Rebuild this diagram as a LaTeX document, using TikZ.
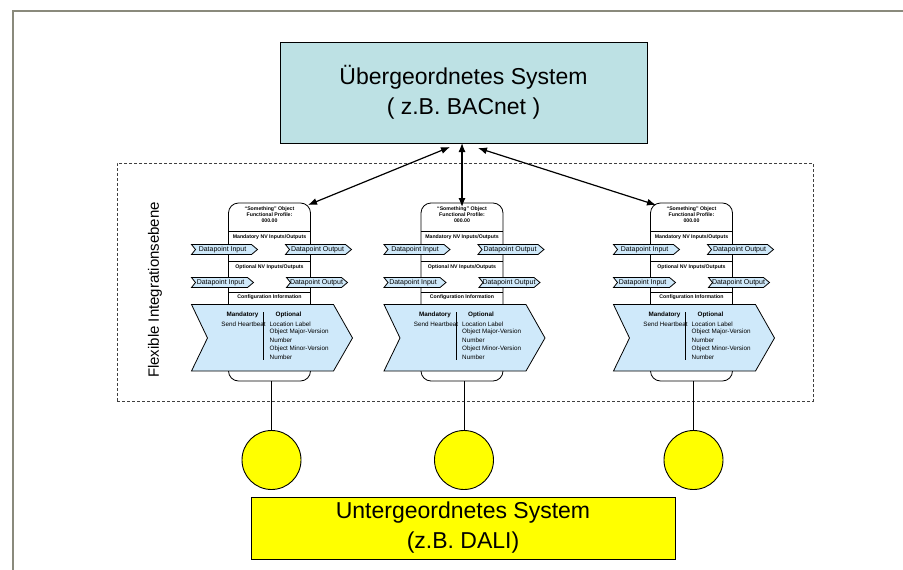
\documentclass[tikz,border=0pt]{standalone}
\usepackage{fontspec}
\setmainfont{Liberation Sans}
\usetikzlibrary{arrows.meta}
\definecolor{topfill}{HTML}{BDE1E4}
\definecolor{dpfill}{HTML}{CFE9FA}
\definecolor{framec}{HTML}{8A8A7C}
\definecolor{dalifill}{HTML}{FFFF00}
\tikzset{
  bigbox/.style={draw, line width=1pt, align=center, inner sep=0pt, font=\fontsize{23}{30}\selectfont},
  modbox/.style={draw, line width=0.8pt, fill=white, rounded corners=10pt, minimum width=82pt, minimum height=178pt, inner sep=0pt},
  hdr/.style={inner sep=0pt, align=center, font=\fontsize{5.2}{5.8}\selectfont\bfseries},
  sep/.style={line width=0.8pt},
  dp/.style={draw, line width=0.8pt, fill=dpfill},
  dptext/.style={inner sep=0pt, font=\fontsize{7}{8}\selectfont},
  cfgtext/.style={inner sep=0pt, font=\fontsize{6.3}{7}\selectfont},
  cfgbold/.style={inner sep=0pt, font=\fontsize{6.3}{7}\selectfont\bfseries},
  link/.style={line width=1.2pt, {Latex[length=9pt,width=7pt]}-{Latex[length=9pt,width=7pt]}},
  wire/.style={line width=0.9pt},
  dot/.style={circle, draw, line width=0.9pt, fill=dalifill, minimum size=59pt, inner sep=0pt}
}
\begin{document}
\begin{tikzpicture}[x=1pt,y=-1pt]
\useasboundingbox (0,0) rectangle (903,570);
% frame
\draw[framec, line width=1.5pt] (903,11) -- (13,11) -- (13,570);
% flexible integration layer
\node[draw, dash pattern=on 3pt off 2pt, line width=0.7pt, draw=black!75, minimum width=696pt, minimum height=238pt, inner sep=0pt] (flex) at (465,282) {};
\node[rotate=90, inner sep=0pt, font=\fontsize{15}{18}\selectfont] (flexlabel) at (155,290) {Flexible Integrationsebene};
% top system
\node[bigbox, fill=topfill, minimum width=367pt, minimum height=101pt] (top) at (463.5,92.5) {Übergeordnetes System\\( z.B. BACnet )};
% bottom system
\node[bigbox, fill=dalifill, minimum width=424pt, minimum height=62pt] (bottom) at (463,528) {Untergeordnetes System\\(z.B. DALI)};
% modules
\foreach \cx/\n in {269.5/1,462/2,691.5/3}{
  \node[modbox] (m\n) at (\cx,292) {};
  \node[hdr] (h\n) at (\cx,214.5) {“Something” Object\\Functional Profile:\\000.00};
  \draw[sep] ({\cx-41},231) -- ({\cx+41},231);
  \node[hdr] (mio\n) at (\cx,237.5) {Mandatory NV Inputs/Outputs};
  % row 1
  \draw[dp] ({\cx-78},244.5) -- ({\cx-18},244.5) -- ({\cx-12},249.5) -- ({\cx-18},254.5) -- ({\cx-78},254.5) -- ({\cx-74},249.5) -- cycle;
  \node[dptext] (dpi\n) at ({\cx-47},249.5) {Datapoint Input};
  \draw[dp] ({\cx+16},244.5) -- ({\cx+76},244.5) -- ({\cx+82},249.5) -- ({\cx+76},254.5) -- ({\cx+16},254.5) -- ({\cx+20},249.5) -- cycle;
  \node[dptext] (dpo\n) at ({\cx+48},249.5) {Datapoint Output};
  \draw[sep] ({\cx-41},261) -- ({\cx+41},261);
  \node[hdr] (oio\n) at (\cx,267.5) {Optional NV Inputs/Outputs};
  % row 2
  \draw[dp] ({\cx-78},277.5) -- ({\cx-22},277.5) -- ({\cx-16},282.5) -- ({\cx-22},287.5) -- ({\cx-78},287.5) -- ({\cx-74},282.5) -- cycle;
  \node[dptext] (dpj\n) at ({\cx-49},282.5) {Datapoint Input};
  \draw[dp] ({\cx+17},277.5) -- ({\cx+72},277.5) -- ({\cx+78},282.5) -- ({\cx+72},287.5) -- ({\cx+17},287.5) -- ({\cx+21},282.5) -- cycle;
  \node[dptext] (dpp\n) at ({\cx+47},282.5) {Datapoint Output};
  \draw[sep] ({\cx-41},292) -- ({\cx+41},292);
  \node[hdr] (cfg\n) at (\cx,297.5) {Configuration Information};
  % configuration chevron
  \draw[dp] ({\cx-78},304.5) -- ({\cx+64},304.5) -- ({\cx+83},338) -- ({\cx+64},371) -- ({\cx-78},371) -- ({\cx-62},338) -- cycle;
  \draw[line width=0.9pt] ({\cx-6},312) -- ({\cx-6},360);
  \node[cfgbold] (man\n) at ({\cx-27},315) {Mandatory};
  \node[cfgtext] (hb\n) at ({\cx-26},324) {Send Heartbeat};
  \node[cfgbold, anchor=west] (opt\n) at ({\cx+6},315) {Optional};
  \node[cfgtext, anchor=west] (ll\n) at (\cx,324) {Location Label};
  \node[cfgtext, anchor=west] (omj\n) at (\cx,332.3) {Object Major-Version};
  \node[cfgtext, anchor=west] (nr\n) at (\cx,340.6) {Number};
  \node[cfgtext, anchor=west] (omn\n) at (\cx,348.9) {Object Minor-Version};
  \node[cfgtext, anchor=west] (ns\n) at (\cx,357.2) {Number};
  % field device
  \coordinate (mb\n) at ({\cx+2},381);
  \node[dot] (c\n) at ({\cx+2},460) {};
  \draw[wire] (mb\n) -- (c\n);
}
% links between top system and modules
\coordinate (ta1) at (450,147);
\coordinate (tb1) at (308,205);
\coordinate (ta2) at (462,143);
\coordinate (tb2) at (462,207);
\coordinate (ta3) at (478,148);
\coordinate (tb3) at (656,205);
\draw[link] (ta1) -- (tb1);
\draw[link] (ta2) -- (tb2);
\draw[link] (ta3) -- (tb3);
\end{tikzpicture}
\end{document}
